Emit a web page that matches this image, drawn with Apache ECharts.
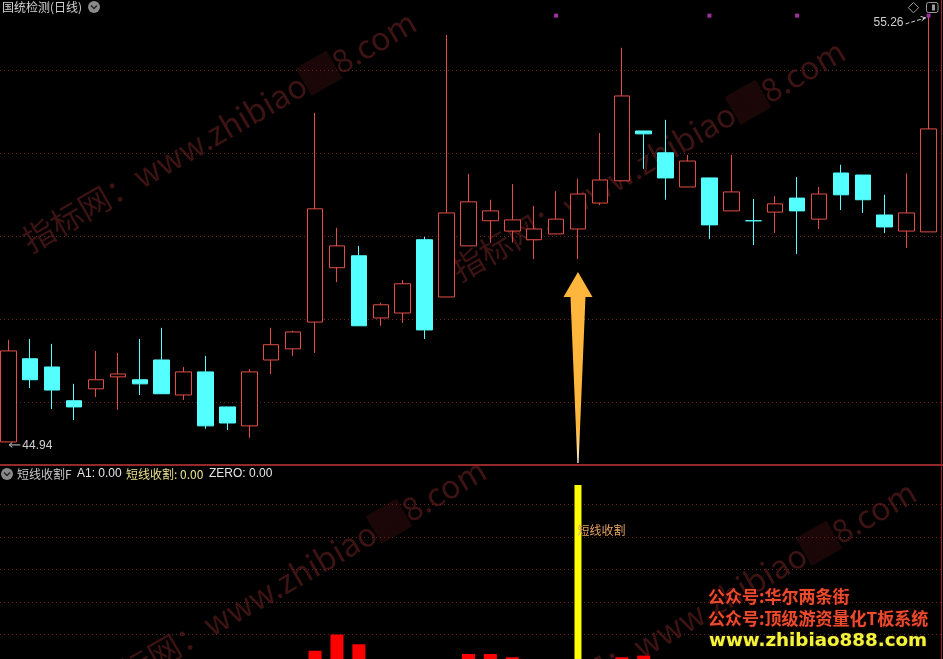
<!DOCTYPE html>
<html>
<head>
<meta charset="utf-8">
<script src="https://cdn.jsdelivr.net/npm/echarts@6/dist/echarts.min.js"></script>
<style>
html,body{margin:0;padding:0;background:#000;overflow:hidden;}
#c{width:943px;height:659px;}
</style>
</head>
<body>
<div id="c"></div>
<script>
// ---------------- DATA ----------------
const openP  = [44.94,46.96,46.76,45.94,46.23,46.52,46.45,46.93,46.08,46.64,45.79,45.33,46.93,47.20,47.85,49.17,49.46,47.95,48.07,49.85,48.46,49.70,50.31,50.06,49.85,49.99,50.11,50.74,51.28,52.49,51.96,51.13,51.35,50.55,50.31,50.52,50.86,50.35,51.47,51.42,50.45,50.06,50.04];
const closeP = [47.15,46.45,46.20,45.79,46.45,46.59,46.35,46.11,46.64,45.33,45.40,46.64,47.30,47.61,50.60,49.70,47.76,48.27,48.78,47.66,50.50,50.77,50.55,50.33,50.11,50.35,50.96,51.30,53.34,52.42,51.35,51.76,50.21,51.01,50.31,50.72,50.55,50.96,50.94,50.82,50.16,50.50,52.54];
const lowP   = [44.94,46.25,45.74,45.47,46.03,45.72,46.08,46.11,45.96,45.26,45.23,45.04,46.59,47.03,47.10,48.82,47.76,47.76,47.83,47.44,48.46,49.70,49.77,49.78,49.38,49.99,49.38,50.69,51.28,51.57,50.82,51.13,49.87,50.55,49.72,50.01,49.50,50.11,50.57,50.50,50.01,49.65,50.04];
const highP  = [47.42,47.44,47.32,46.35,47.15,47.10,47.44,47.71,46.76,47.03,45.79,46.71,47.71,47.64,52.93,50.14,49.70,48.32,48.87,49.92,54.82,51.45,50.82,51.20,50.67,51.03,51.33,52.44,54.51,52.49,52.76,51.91,51.35,51.91,50.84,50.91,51.37,51.13,51.67,51.42,50.94,51.46,55.26];
const dayIndex = openP.map((_, i) => i);   // bar (day) positions 0..42

// visible day window of the x axis
const dayAxisMin = -0.38, dayAxisMax = 42.66;

// dotted grid levels / ranges of the price pane and the indicator pane
const priceGridLevels = [45.91, 47.93, 49.94, 51.96, 53.97];
const priceAxisMin = 44.38, priceAxisMax = 55.67;
const indGridLevels = [20, 40, 60, 80, 100];
const indAxisMin = 4.92, indAxisMax = 123.7;

// magenta marks at the top
const markerIdx = [25, 32, 36, 42];
const markerLevel = 55.29;

// indicator pane: red bars and the yellow signal bar
const redBarIdx = [14, 15, 16, 21, 22, 23, 28, 29];
const redBarVal = [10, 20, 14, 8, 8, 6, 6, 7];
const signalIdx = 26;
const signalValue = 112;
const signalLabelValue = 84;
const signalLabel = '短线收割';

// ---------------- BUILD ----------------
const ohlc = dayIndex.map(i => [i, openP[i], closeP[i], lowP[i], highP[i]]);
const redData = redBarIdx.map((k, j) => [k, redBarVal[j]]);
const yellowData = [[signalIdx, signalValue]];
const markerData = markerIdx.map(i => [i, markerLevel]);

const UP = '#e44d47', DOWN = '#54ffff', GRIDC = '#6e2222';
const LAT = "'Liberation Sans','Noto Sans CJK SC',sans-serif";
const CJK = "'Noto Sans CJK SC','Liberation Sans',sans-serif";

const chart = echarts.init(document.getElementById('c'), null, {renderer: 'canvas'});

const dayAxis = (gi) => ({type: 'value', gridIndex: gi, min: dayAxisMin, max: dayAxisMax, show: false, splitLine: {show: false}});

const option = {
  backgroundColor: '#000',
  animation: false,
  grid: [
    {left: 0, right: 0, top: 0, bottom: 194},
    {left: 0, right: 0, top: 466, bottom: 0}
  ],
  xAxis: [dayAxis(0), dayAxis(1), dayAxis(1)],
  yAxis: [
    {type: 'value', gridIndex: 0, min: priceAxisMin, max: priceAxisMax, show: false, splitLine: {show: false}},
    {type: 'value', gridIndex: 1, min: indAxisMin, max: indAxisMax, show: false, splitLine: {show: false}}
  ],
  series: [
    {
      type: 'candlestick', xAxisIndex: 0, yAxisIndex: 0, data: ohlc, barWidth: 16, z: 3,
      encode: {x: 0, y: [1, 2, 3, 4]},
      itemStyle: {color: '#000', color0: DOWN, borderColor: UP, borderColor0: DOWN, borderColorDoji: DOWN, borderWidth: 1}
    },
    {
      type: 'scatter', xAxisIndex: 0, yAxisIndex: 0, data: markerData, symbol: 'rect', symbolSize: 4, z: 4,
      itemStyle: {color: '#c43ccc'},
      markLine: {silent: true, symbol: 'none', label: {show: false}, animation: false, z: 1,
        lineStyle: {color: GRIDC, type: [1, 3], width: 1},
        data: priceGridLevels.map(v => ({yAxis: v}))}
    },
    {
      type: 'bar', xAxisIndex: 1, yAxisIndex: 1, data: redData, barWidth: 13, z: 3,
      itemStyle: {color: '#ff0000'},
      markLine: {silent: true, symbol: 'none', label: {show: false}, animation: false, z: 1,
        lineStyle: {color: GRIDC, type: [1, 3], width: 1},
        data: indGridLevels.map(v => ({yAxis: v}))}
    },
    {
      type: 'bar', xAxisIndex: 2, yAxisIndex: 1, data: yellowData, barWidth: 7, z: 3,
      itemStyle: {color: '#ffff00'},
      markPoint: {
        symbol: 'rect', symbolSize: 1, itemStyle: {color: 'transparent'}, animation: false,
        data: [{coord: [signalIdx, signalLabelValue]}],
        label: {show: true, formatter: signalLabel, position: 'right', distance: -1,
          color: '#e6a25e', fontSize: 12, fontFamily: CJK}
      }
    }
  ]
};
chart.setOption(option);

// ---------------- ANNOTATIONS ----------------
const g = [];
// watermarks
const wmPos = [[219, 131], [648, 160], [289, 579], [719, 601]];
wmPos.forEach(p => {
  g.push({type: 'text', x: p[0], y: p[1], rotation: Math.PI / 6, z: 0, silent: true,
    style: {text: '{a|指标网：www.zhibiao}{b|88}{a|8.com}', align: 'center', verticalAlign: 'middle',
      rich: {
        a: {fill: '#3d1313', fontSize: 32, fontFamily: CJK},
        b: {fill: '#1b0707', backgroundColor: '#1b0707', fontSize: 32, fontFamily: CJK}
      }}});
});

// separators
g.push({type: 'line', z: 50, silent: true, shape: {x1: 0, y1: 465, x2: 943, y2: 465}, style: {stroke: '#952828', lineWidth: 2}});
g.push({type: 'line', z: 50, silent: true, shape: {x1: 941.5, y1: 0, x2: 941.5, y2: 659}, style: {stroke: '#952828', lineWidth: 1}});

// signal arrow
const [sx, sy] = chart.convertToPixel({gridIndex: 0}, [signalIdx, lowP[signalIdx]]);
const tipY = sy + 13, baseY = tipY + 25, tailY = 463;
g.push({type: 'polygon', z: 40, silent: true,
  shape: {points: [[sx, tipY], [sx + 14.5, baseY], [sx + 7.5, baseY], [sx + 0.6, tailY], [sx - 0.6, tailY], [sx - 7.5, baseY], [sx - 14.5, baseY]]},
  style: {fill: new echarts.graphic.LinearGradient(0, 0, 0, 1, [
    {offset: 0, color: '#ffb63c'}, {offset: 0.82, color: '#ffb63c'}, {offset: 1, color: '#fff3dc'}])}});

// max / min price labels
const maxHigh = Math.max(...highP), minLow = Math.min(...lowP);
const [hx, hy] = chart.convertToPixel({gridIndex: 0}, [highP.indexOf(maxHigh), maxHigh]);
g.push({type: 'text', x: hx - 25, y: hy + 6, z: 60, silent: true,
  style: {text: maxHigh.toFixed(2), fill: '#cfcfcf', fontSize: 12, fontFamily: LAT, align: 'right', verticalAlign: 'middle'}});
g.push({type: 'polyline', z: 60, silent: true, shape: {points: [[hx - 23, hy + 7], [hx - 3, hy + 1]]},
  style: {stroke: '#cfcfcf', lineWidth: 1, lineDash: [4, 2]}});
g.push({type: 'polyline', z: 60, silent: true, shape: {points: [[hx - 8, hy - 0.5], [hx - 3, hy + 1], [hx - 7, hy + 4]]},
  style: {stroke: '#cfcfcf', lineWidth: 1, fill: null}});

const [lx, ly] = chart.convertToPixel({gridIndex: 0}, [lowP.indexOf(minLow), minLow]);
g.push({type: 'polyline', z: 60, silent: true, shape: {points: [[lx + 12, ly + 3], [lx + 1, ly + 3]]},
  style: {stroke: '#cfcfcf', lineWidth: 1}});
g.push({type: 'polyline', z: 60, silent: true, shape: {points: [[lx + 4, ly + 0.5], [lx + 1, ly + 3], [lx + 4, ly + 5.5]]},
  style: {stroke: '#cfcfcf', lineWidth: 1, fill: null}});
g.push({type: 'text', x: lx + 14, y: ly + 4, z: 60, silent: true,
  style: {text: minLow.toFixed(2), fill: '#cfcfcf', fontSize: 12, fontFamily: LAT, align: 'left', verticalAlign: 'middle'}});

// titles
g.push({type: 'text', x: 2, y: 7, z: 60, silent: true,
  style: {text: '国统检测(日线)', fill: '#d2d2d2', fontSize: 12, fontFamily: CJK, align: 'left', verticalAlign: 'middle'}});
function chevron(cx, cy) {
  g.push({type: 'circle', z: 60, silent: true, shape: {cx: cx, cy: cy, r: 6}, style: {fill: '#8a8a8a'}});
  g.push({type: 'polyline', z: 61, silent: true, shape: {points: [[cx - 3, cy - 1.5], [cx, cy + 1.5], [cx + 3, cy - 1.5]]},
    style: {stroke: '#262626', lineWidth: 1.5, fill: null}});
}
chevron(94, 7);
chevron(7, 474);

// top-right icons
g.push({type: 'polygon', z: 60, silent: true, shape: {points: [[913.5, 2.5], [918.7, 7.7], [913.5, 12.9], [908.3, 7.7]]},
  style: {stroke: '#9a9a9a', fill: null, lineWidth: 1}});
g.push({type: 'rect', z: 60, silent: true, shape: {x: 926.5, y: 2.5, width: 11.5, height: 10, r: 2},
  style: {stroke: '#9a9a9a', fill: null, lineWidth: 1}});
g.push({type: 'rect', z: 60, silent: true, shape: {x: 932, y: 4.5, width: 3, height: 6}, style: {fill: '#9a9a9a'}});

// indicator header
const hdr = [
  [17, '短线收割F', '#c8c8c8', CJK],
  [77, 'A1: 0.00', '#e6e6e6', LAT],
  [126, '短线收割: 0.00', '#e9e08c', CJK],
  [209, 'ZERO: 0.00', '#e6e6e6', LAT]
];
hdr.forEach(h => g.push({type: 'text', x: h[0], y: 474, z: 60, silent: true,
  style: {text: h[1], fill: h[2], fontSize: 12, fontFamily: h[3], align: 'left', verticalAlign: 'middle'}}));

// promo text bottom right
g.push({type: 'text', x: 708, y: 597, z: 80, silent: true,
  style: {text: '公众号:华尔两条街', fill: '#ea4b2c', stroke: 'rgba(30,0,0,0.85)', lineWidth: 2,
    fontSize: 17, fontWeight: 'bold', fontFamily: CJK, align: 'left', verticalAlign: 'middle'}});
g.push({type: 'text', x: 708, y: 619, z: 80, silent: true,
  style: {text: '公众号:顶级游资量化T板系统', fill: '#ea4b2c', stroke: 'rgba(30,0,0,0.85)', lineWidth: 2,
    fontSize: 17, fontWeight: 'bold', fontFamily: CJK, align: 'left', verticalAlign: 'middle'}});
g.push({type: 'text', x: 709, y: 641, z: 80, silent: true,
  style: {text: 'www.zhibiao888.com', fill: '#f3f33c', stroke: 'rgba(30,20,0,0.85)', lineWidth: 2,
    fontSize: 18.3, fontWeight: 'bold', fontFamily: "'DejaVu Sans',sans-serif", align: 'left', verticalAlign: 'middle'}});

chart.setOption({graphic: {elements: g}});
</script>
</body>
</html>
